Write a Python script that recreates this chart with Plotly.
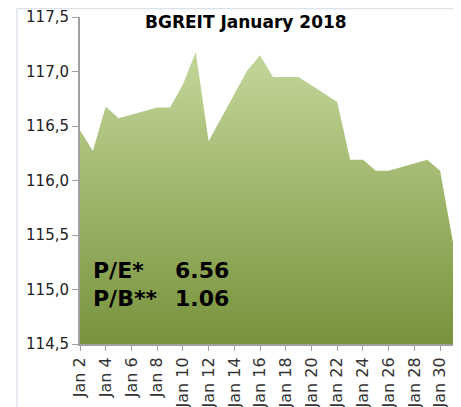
import plotly.graph_objects as go

dates = ["2018-01-02", "2018-01-03", "2018-01-04", "2018-01-05", "2018-01-08",
         "2018-01-09", "2018-01-10", "2018-01-11", "2018-01-12", "2018-01-15",
         "2018-01-16", "2018-01-17", "2018-01-18", "2018-01-19", "2018-01-22",
         "2018-01-23", "2018-01-24", "2018-01-25", "2018-01-26", "2018-01-29",
         "2018-01-30", "2018-01-31"]
values = [116.46, 116.27, 116.68, 116.57, 116.67,
          116.67, 116.88, 117.18, 116.36, 117.01,
          117.15, 116.95, 116.95, 116.95, 116.72,
          116.19, 116.19, 116.09, 116.09, 116.19,
          116.09, 115.43]

title_text = "BGREIT January 2018"
pe_label, pe_value = "P/E*", "6.56"
pb_label, pb_value = "P/B**", "1.06"

# page has an 8px body margin, so the figure is offset by 8px;
# keep the figure inside the visible width
OFF = 8
W, H = 461 - 2 * OFF, 407 - OFF
L, T = 80 - OFF, 17 - OFF
R = 0
B = H - (344 - OFF)
pw, ph = W - L - R, H - T - B

def px_x(p):  # p in page pixels
    return (p - OFF - L) / pw

def px_y(p):
    return (H - B - (p - OFF)) / ph

FONT = "DejaVu Sans, Verdana, sans-serif"

fig = go.Figure()
fig.add_trace(go.Scatter(
    x=dates, y=values, mode="lines",
    line=dict(width=0, color="rgba(0,0,0,0)"),
    fill="tozeroy",
    fillgradient=dict(type="vertical", start=114.5, stop=117.18,
                      colorscale=[[0, "#77933c"], [1, "#c4d79b"]]),
    hoverinfo="x+y", showlegend=False,
))

fig.update_layout(
    width=W, height=H,
    margin=dict(l=L, r=R, t=T, b=B, autoexpand=False),
    paper_bgcolor="white", plot_bgcolor="white",
    separators=",.",
    font=dict(family=FONT, color="#222222"),
    xaxis=dict(
        type="date", range=["2018-01-02", "2018-01-31"], automargin=False,
        tick0="2018-01-02", dtick=2 * 86400000, tickformat="%b %-d",
        tickangle=-90, ticks="outside", ticklen=5, tickcolor="#a0a0a0",
        showline=True, linecolor="#a0a0a0", linewidth=2,
        showgrid=False, zeroline=False,
        tickfont=dict(family=FONT, size=16, color="#333333"),
    ),
    yaxis=dict(
        range=[114.5, 117.5], dtick=0.5, tick0=114.5, tickformat=".1f",
        automargin=False,
        ticks="outside", ticklen=6, tickcolor="#a0a0a0",
        showline=True, linecolor="#a0a0a0", linewidth=2,
        showgrid=False, zeroline=False,
        tickfont=dict(family=FONT, size=15, color="#222222"),
    ),
    shapes=[
        dict(type="line", xref="paper", yref="paper", x0=px_x(17), x1=px_x(17),
             y0=px_y(8.5), y1=px_y(407), line=dict(color="#dbe2ea", width=1.5)),
        dict(type="line", xref="paper", yref="paper", x0=px_x(17), x1=px_x(461),
             y0=px_y(8.5), y1=px_y(8.5), line=dict(color="#dbe2ea", width=1.5)),
    ],
    annotations=[
        dict(text="<b>" + title_text + "</b>", xref="paper", yref="paper",
             x=px_x(246), y=px_y(22), xanchor="center", yanchor="middle",
             showarrow=False, font=dict(family=FONT, size=17, color="black")),
        dict(text="<b>" + pe_label + "</b>", xref="paper", yref="paper",
             x=px_x(91), y=px_y(270), xanchor="left", yanchor="middle",
             showarrow=False, font=dict(family=FONT, size=22, color="black")),
        dict(text="<b>" + pe_value + "</b>", xref="paper", yref="paper",
             x=px_x(173), y=px_y(270), xanchor="left", yanchor="middle",
             showarrow=False, font=dict(family=FONT, size=22, color="black")),
        dict(text="<b>" + pb_label + "</b>", xref="paper", yref="paper",
             x=px_x(91), y=px_y(298), xanchor="left", yanchor="middle",
             showarrow=False, font=dict(family=FONT, size=22, color="black")),
        dict(text="<b>" + pb_value + "</b>", xref="paper", yref="paper",
             x=px_x(173), y=px_y(298), xanchor="left", yanchor="middle",
             showarrow=False, font=dict(family=FONT, size=22, color="black")),
    ],
)

fig.write_html("out.html")
